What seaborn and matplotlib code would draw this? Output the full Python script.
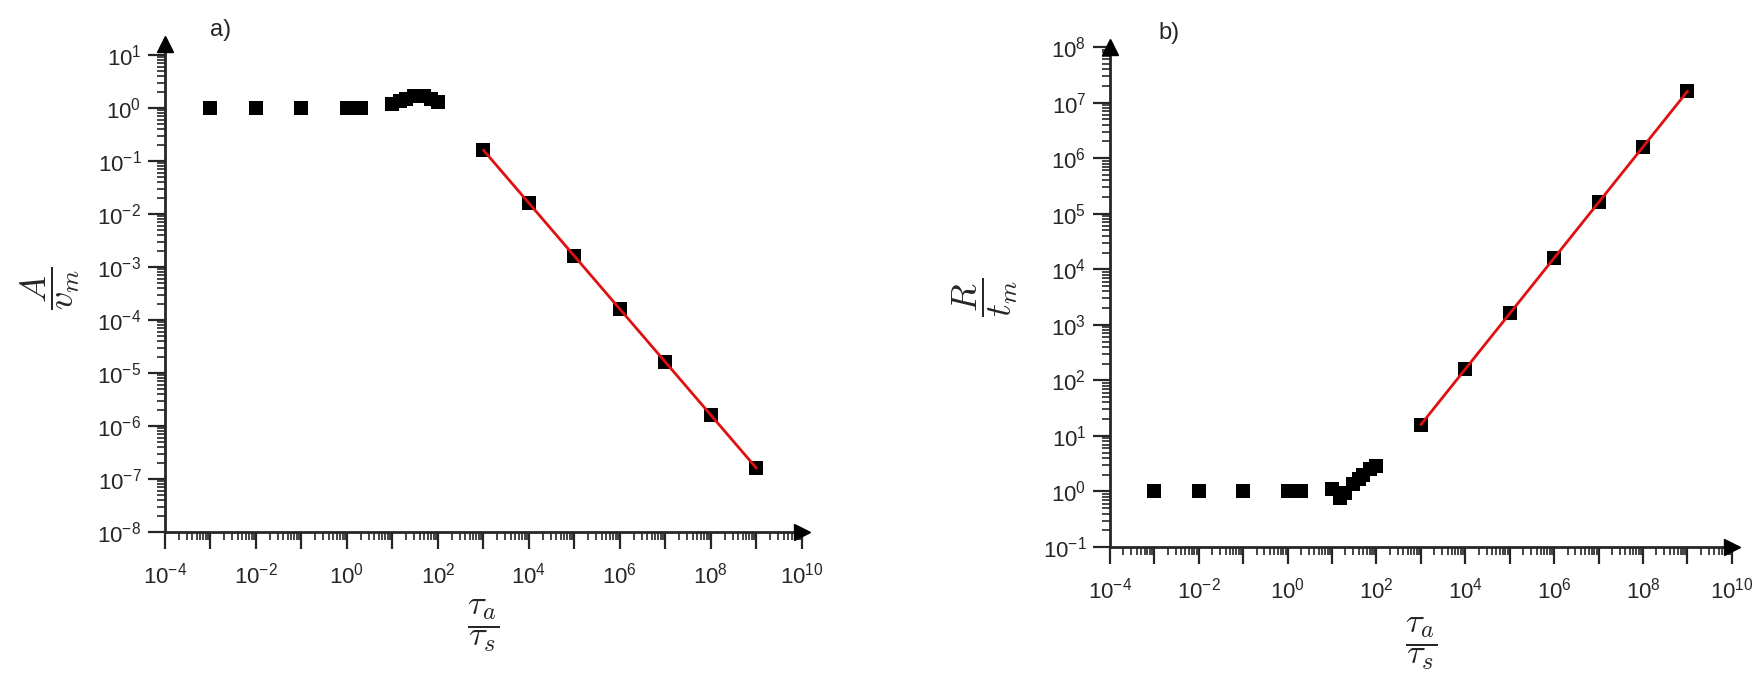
import numpy as np
import matplotlib
matplotlib.use("Agg")
import matplotlib.pyplot as plt
from matplotlib.ticker import LogLocator, FuncFormatter, NullFormatter
import seaborn as sns

sns.set_style("ticks")
plt.rcParams['font.family'] = ['Liberation Sans', 'DejaVu Sans']

# tau_a / tau_s values (flat part, bump near 10-100, power-law part)
x_low = [1e-3, 1e-2, 1e-1, 1.0, 2.0]
x_mid = [10, 15, 20, 30, 40, 50, 70, 100]
x_fit = [1e3, 1e4, 1e5, 1e6, 1e7, 1e8, 1e9]

# panel a: A / v_m
a_low = [1.0, 1.0, 1.0, 1.0, 1.0]
a_mid = [1.2, 1.35, 1.5, 1.65, 1.7, 1.65, 1.5, 1.3]
a_fit = [0.16, 1.6e-2, 1.6e-3, 1.6e-4, 1.6e-5, 1.6e-6, 1.6e-7]

# panel b: R / t_m
b_low = [1.0, 1.0, 1.0, 1.0, 1.0]
b_mid = [1.1, 0.75, 0.95, 1.35, 1.7, 2.0, 2.5, 2.9]
b_fit = [16, 160, 1.6e3, 1.6e4, 1.6e5, 1.6e6, 1.6e7]


def sci(v, pos, every=1):
    e = int(round(np.log10(v)))
    if e % every:
        return ''
    return r'$\mathregular{10^{%d}}$' % e


def style_axis(ax, ylo, yhi):
    ax.set_xscale('log')
    ax.set_yscale('log')
    ax.set_xlim(1e-4, 1e10)
    ax.set_ylim(ylo, yhi)
    for s in ['top', 'right']:
        ax.spines[s].set_visible(False)
    for s in ['left', 'bottom']:
        ax.spines[s].set_linewidth(2)
    ax.xaxis.set_major_locator(LogLocator(base=10, numticks=30))
    ax.yaxis.set_major_locator(LogLocator(base=10, numticks=30))
    ax.xaxis.set_minor_locator(LogLocator(base=10, subs=np.arange(2, 10), numticks=30))
    ax.yaxis.set_minor_locator(LogLocator(base=10, subs=np.arange(2, 10), numticks=30))
    ax.xaxis.set_major_formatter(FuncFormatter(lambda v, p: sci(v, p, 2)))
    ax.yaxis.set_major_formatter(FuncFormatter(lambda v, p: sci(v, p, 1)))
    ax.xaxis.set_minor_formatter(NullFormatter())
    ax.yaxis.set_minor_formatter(NullFormatter())
    ax.tick_params(which='major', direction='out', length=12, width=1.6,
                   labelsize=16, pad=5)
    ax.tick_params(axis='x', which='major', pad=10)
    ax.tick_params(which='minor', direction='out', length=6, width=1.2)
    # arrow heads at the axis ends
    ax.plot(1, 0, '>k', ms=11, transform=ax.transAxes, clip_on=False, zorder=5)
    ax.plot(0, 1, '^k', ms=11, transform=ax.transAxes, clip_on=False, zorder=5)


def draw(ax, low, mid, fit):
    xs = x_low + x_mid + x_fit
    ys = low + mid + fit
    sns.scatterplot(x=xs, y=ys, marker='s', color='black', s=90,
                    edgecolor='black', linewidth=0, ax=ax, zorder=3)
    sns.lineplot(x=x_fit, y=fit, color='#e01010', linewidth=2, ax=ax, zorder=4)


fig = plt.figure(figsize=(17.59, 6.9), dpi=100)
ax1 = fig.add_axes([0.0938, 0.229, 0.3621, 0.7067])
ax2 = fig.add_axes([0.631, 0.2072, 0.3536, 0.7246])

draw(ax1, a_low, a_mid, a_fit)
style_axis(ax1, 1e-8, 10 ** 1.2)
draw(ax2, b_low, b_mid, b_fit)
style_axis(ax2, 1e-1, 1e8)

xlab = r'$\dfrac{\tau_a}{\tau_s}$'
ax1.set_xlabel(xlab, fontsize=25, math_fontfamily='cm')
ax1.xaxis.set_label_coords(0.5, -0.135)
ax2.set_xlabel(xlab, fontsize=25, math_fontfamily='cm')
ax2.xaxis.set_label_coords(0.5, -0.136)

ax1.set_ylabel(r'$\dfrac{A}{v_m}$', fontsize=26, math_fontfamily='cm')
ax1.yaxis.set_label_coords(-0.13, 0.5)
ax2.set_ylabel(r'$\dfrac{R}{t_m}$', fontsize=26, math_fontfamily='cm')
ax2.yaxis.set_label_coords(-0.145, 0.5)

fig.text(210 / 1759, 1 - 30 / 690, 'a)', fontsize=17, va='center')
fig.text(1158 / 1759, 1 - 33 / 690, 'b)', fontsize=17, va='center')

fig.savefig('out.png', dpi=100)
